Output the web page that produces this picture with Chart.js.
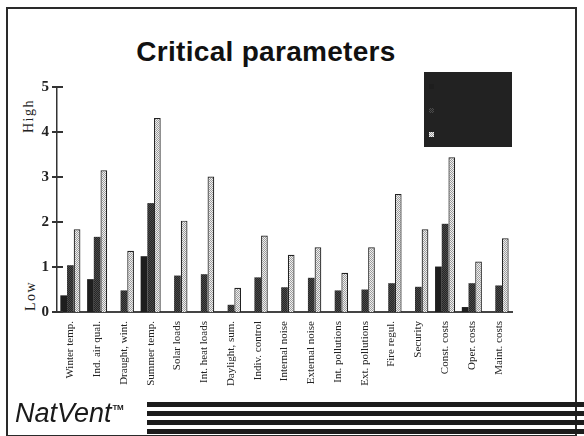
<!DOCTYPE html>
<html lang="en">
<head>
  <meta charset="UTF-8" />
  <title>Critical parameters</title>
  <script src="https://cdn.jsdelivr.net/npm/chart.js"></script>
  <style>
    body { margin: 0; background: #fff; }
    .sheet { position: relative; width: 584px; height: 436px; overflow: hidden; background: #fff; }
    .frame { position: absolute; left: 6px; top: 7px; width: 571px; height: 430px; border: 2px solid #2a2a2a; box-sizing: border-box; }
    .title { position: absolute; left: 0; width: 532px; top: 38px; text-align: center; font: bold 28px "Liberation Sans", Arial, sans-serif; line-height: 28px; color: #111; letter-spacing: 0.3px; }
    .side { position: absolute; font: 14px "Liberation Serif", serif; letter-spacing: 1.5px; color: #222; transform: rotate(-90deg); transform-origin: center; white-space: nowrap; }
    .brand { position: absolute; left: 15px; top: 400px; font: italic 27px "Liberation Sans", Arial, sans-serif; line-height: 27px; color: #1a1a1a; }
    .brand sup { font: bold 8px "Liberation Sans", Arial, sans-serif; vertical-align: top; position: relative; top: 3px; margin-left: 1px; letter-spacing: -0.5px; }
    .stripe { position: absolute; left: 147px; right: 0; height: 5px; background: #1c1c1c; }
    canvas { position: absolute; left: 0; top: 0; }
  </style>
</head>
<body>
  <div class="sheet">
    <div class="frame"></div>
    <div class="title">Critical parameters</div>
    <div class="side" style="left:12px; top:108px;">High</div>
    <div class="side" style="left:16px; top:288px;">Low</div>
    <canvas id="critChart" width="584" height="436"></canvas>
    <div class="brand">NatVent<sup>TM</sup></div>
    <div class="stripe" style="top:402px"></div>
    <div class="stripe" style="top:411px"></div>
    <div class="stripe" style="top:420px"></div>
    <div class="stripe" style="top:429px"></div>
  </div>
  <script>
    const categories = ['Winter temp.', 'Ind. air qual.', 'Draught, wint.', 'Summer temp.', 'Solar loads',
      'Int. heat loads', 'Daylight, sum.', 'Indiv. control', 'Internal noise', 'External noise',
      'Int. pollutions', 'Ext. pollutions', 'Fire regul.', 'Security', 'Const. costs', 'Oper. costs', 'Maint. costs'];
    const seriesA = [0.37, 0.73, 0, 1.24, 0, 0, 0, 0, 0, 0, 0, 0, 0, 0, 1.01, 0.11, 0];
    const seriesB = [1.04, 1.67, 0.48, 2.42, 0.81, 0.84, 0.16, 0.77, 0.55, 0.76, 0.48, 0.50, 0.64, 0.56, 1.96, 0.64, 0.59];
    const seriesC = [1.84, 3.15, 1.36, 4.31, 2.03, 3.01, 0.54, 1.70, 1.27, 1.44, 0.87, 1.44, 2.62, 1.84, 3.44, 1.12, 1.64];
    const yTicks = [0, 1, 2, 3, 4, 5];

    // small checker patterns to imitate the printed screens
    function dots(bg, dot) {
      const c = document.createElement('canvas');
      c.width = 2; c.height = 2;
      const g = c.getContext('2d');
      g.fillStyle = bg; g.fillRect(0, 0, 2, 2);
      g.fillStyle = dot; g.fillRect(0, 0, 1, 1); g.fillRect(1, 1, 1, 1);
      return g.createPattern(c, 'repeat');
    }

    const extras = {
      id: 'extras',
      afterDraw(chart) {
        const ctx = chart.ctx;
        const y = chart.scales.y;
        const x0 = chart.chartArea.left;
        ctx.save();
        ctx.strokeStyle = '#333';
        ctx.lineWidth = 2;
        yTicks.forEach(v => {
          const py = y.getPixelForValue(v);
          ctx.beginPath();
          ctx.moveTo(x0 - 5, py);
          ctx.lineTo(x0 + 6, py);
          ctx.stroke();
        });
        // dark legend box
        ctx.fillStyle = '#222';
        ctx.fillRect(424, 72, 88, 75);
        chart.data.datasets.forEach((ds, i) => {
          ctx.fillStyle = ds.backgroundColor;
          ctx.fillRect(429, 84 + i * 24, 5, 5);
        });
        ctx.restore();
      }
    };

    new Chart(document.getElementById('critChart'), {
      type: 'bar',
      data: {
        labels: categories,
        datasets: [
          { label: 'A', data: seriesA, backgroundColor: '#1e1e1e', borderWidth: 0 },
          { label: 'B', data: seriesB, backgroundColor: dots('#262626', '#4a4a4a'), borderWidth: 0 },
          { label: 'C', data: seriesC, backgroundColor: dots('#f0f0f0', '#9c9c9c'), borderColor: '#222', borderWidth: 1.2 }
        ]
      },
      options: {
        responsive: false,
        animation: false,
        layout: { padding: { top: 87, right: 72, bottom: 0, left: 0 } },
        plugins: { legend: { display: false }, tooltip: { enabled: false } },
        datasets: { bar: { categoryPercentage: 0.75, barPercentage: 1.0 } },
        scales: {
          x: {
            grid: { display: false, drawTicks: false },
            border: { display: true, color: '#444', width: 2 },
            ticks: {
              minRotation: 90, maxRotation: 90, autoSkip: false, padding: 9,
              color: '#222', font: { family: 'Liberation Serif', size: 11 }
            },
            afterFit(s) { s.height = 124; }
          },
          y: {
            min: 0, max: 5,
            grid: { display: false, drawTicks: false },
            border: { display: true, color: '#333', width: 1.5 },
            ticks: {
              stepSize: 1, padding: 8,
              color: '#222', font: { family: 'Liberation Serif', size: 15, weight: 'bold' }
            },
            afterFit(s) { s.width = 57; }
          }
        }
      },
      plugins: [extras]
    });
  </script>
</body>
</html>
